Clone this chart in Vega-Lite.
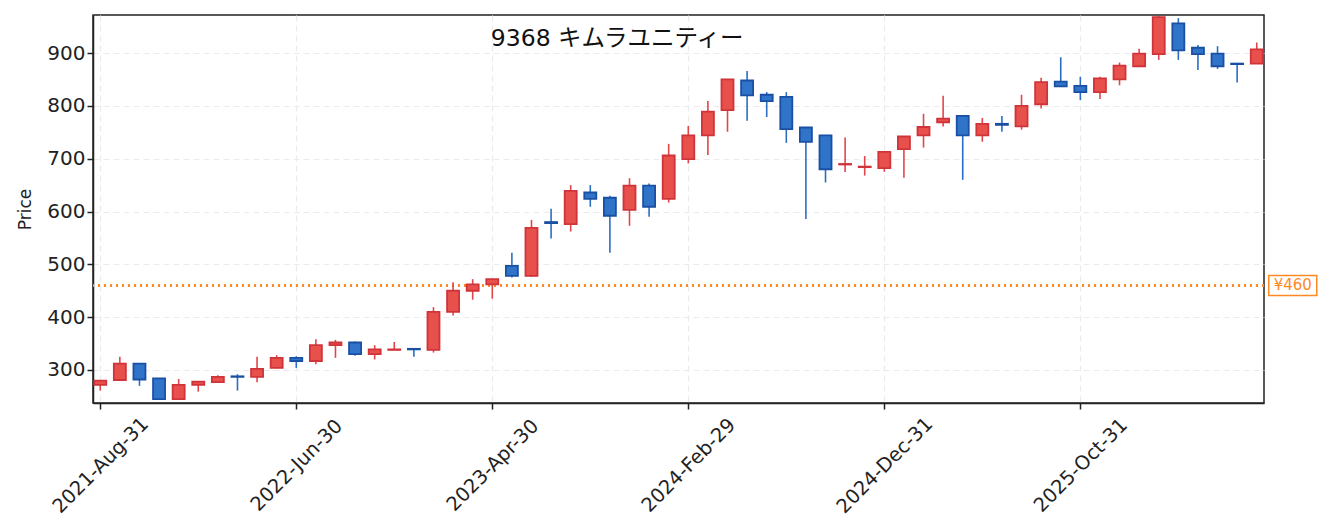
{
  "$schema": "https://vega.github.io/schema/vega-lite/v6.json",
  "width": 1171,
  "height": 388,
  "autosize": {"type": "none"},
  "padding": {"left": 93, "top": 15, "right": 65, "bottom": 129},
  "background": "white",
  "title": {
    "text": "9368  キムラユニティー",
    "anchor": "start",
    "dx": 474,
    "offset": -35,
    "baseline": "top",
    "font": "DejaVu Sans, Noto Sans CJK JP",
    "fontSize": 23.5,
    "fontWeight": "normal",
    "color": "#111111"
  },
  "config": {
    "view": {"stroke": "#222222", "strokeWidth": 1.5}
  },
  "data": {
    "values": [
      {"d": "2021-Aug-31", "o": 272, "h": 281, "l": 261, "c": 280},
      {"d": "2021-Sep-30", "o": 281, "h": 325, "l": 280, "c": 312},
      {"d": "2021-Oct-31", "o": 312, "h": 312, "l": 270, "c": 282},
      {"d": "2021-Nov-30", "o": 284, "h": 284, "l": 245, "c": 245},
      {"d": "2021-Dec-31", "o": 245, "h": 283, "l": 245, "c": 272},
      {"d": "2022-Jan-31", "o": 272, "h": 278, "l": 259, "c": 278},
      {"d": "2022-Feb-28", "o": 277, "h": 290, "l": 277, "c": 287},
      {"d": "2022-Mar-31", "o": 288, "h": 292, "l": 261, "c": 287},
      {"d": "2022-Apr-30", "o": 287, "h": 325, "l": 277, "c": 302},
      {"d": "2022-May-31", "o": 304, "h": 328, "l": 303, "c": 323},
      {"d": "2022-Jun-30", "o": 323, "h": 326, "l": 304, "c": 317},
      {"d": "2022-Jul-31", "o": 317, "h": 358, "l": 311, "c": 347},
      {"d": "2022-Aug-31", "o": 347, "h": 357, "l": 323, "c": 352},
      {"d": "2022-Sep-30", "o": 352, "h": 354, "l": 327, "c": 330},
      {"d": "2022-Oct-31", "o": 330, "h": 347, "l": 320, "c": 339},
      {"d": "2022-Nov-30", "o": 338, "h": 353, "l": 338, "c": 339},
      {"d": "2022-Dec-31", "o": 340, "h": 340, "l": 325, "c": 339},
      {"d": "2023-Jan-31", "o": 338, "h": 419, "l": 333, "c": 410},
      {"d": "2023-Feb-28", "o": 410, "h": 466, "l": 403, "c": 450},
      {"d": "2023-Mar-31", "o": 450, "h": 472, "l": 433, "c": 462},
      {"d": "2023-Apr-30", "o": 462, "h": 472, "l": 435, "c": 472},
      {"d": "2023-May-31", "o": 497, "h": 522, "l": 475, "c": 478},
      {"d": "2023-Jun-30", "o": 478, "h": 584, "l": 476, "c": 569},
      {"d": "2023-Jul-31", "o": 580, "h": 605, "l": 549, "c": 578},
      {"d": "2023-Aug-31", "o": 576, "h": 650, "l": 562, "c": 639},
      {"d": "2023-Sep-30", "o": 636, "h": 650, "l": 609, "c": 624},
      {"d": "2023-Oct-31", "o": 626, "h": 630, "l": 522, "c": 592},
      {"d": "2023-Nov-30", "o": 603, "h": 663, "l": 573, "c": 649},
      {"d": "2023-Dec-31", "o": 649, "h": 653, "l": 590, "c": 609},
      {"d": "2024-Jan-31", "o": 624, "h": 728, "l": 617, "c": 706},
      {"d": "2024-Feb-29", "o": 699, "h": 762, "l": 691, "c": 744},
      {"d": "2024-Mar-31", "o": 744, "h": 809, "l": 707, "c": 789},
      {"d": "2024-Apr-30", "o": 792, "h": 850, "l": 751, "c": 850},
      {"d": "2024-May-31", "o": 848, "h": 866, "l": 772, "c": 820},
      {"d": "2024-Jun-30", "o": 821, "h": 826, "l": 779, "c": 809},
      {"d": "2024-Jul-31", "o": 817, "h": 826, "l": 730, "c": 756},
      {"d": "2024-Aug-31", "o": 759, "h": 759, "l": 586, "c": 732},
      {"d": "2024-Sep-30", "o": 744, "h": 744, "l": 655, "c": 680},
      {"d": "2024-Oct-31", "o": 689, "h": 740, "l": 675, "c": 690},
      {"d": "2024-Nov-30", "o": 684, "h": 705, "l": 668, "c": 685},
      {"d": "2024-Dec-31", "o": 682, "h": 713, "l": 675, "c": 713},
      {"d": "2025-Jan-31", "o": 718, "h": 742, "l": 664, "c": 742},
      {"d": "2025-Feb-28", "o": 744, "h": 785, "l": 721, "c": 760},
      {"d": "2025-Mar-31", "o": 769, "h": 819, "l": 761, "c": 776},
      {"d": "2025-Apr-30", "o": 781, "h": 781, "l": 660, "c": 744},
      {"d": "2025-May-31", "o": 744, "h": 777, "l": 732, "c": 766},
      {"d": "2025-Jun-30", "o": 766, "h": 781, "l": 751, "c": 764},
      {"d": "2025-Jul-31", "o": 761, "h": 821, "l": 755, "c": 800},
      {"d": "2025-Aug-31", "o": 803, "h": 853, "l": 795, "c": 845},
      {"d": "2025-Sep-30", "o": 846, "h": 892, "l": 837, "c": 837},
      {"d": "2025-Oct-31", "o": 838, "h": 855, "l": 811, "c": 826},
      {"d": "2025-Nov-30", "o": 826, "h": 855, "l": 813, "c": 852},
      {"d": "2025-Dec-31", "o": 850, "h": 882, "l": 839, "c": 876},
      {"d": "2026-Jan-31", "o": 875, "h": 908, "l": 874, "c": 899},
      {"d": "2026-Feb-28", "o": 898, "h": 970, "l": 887, "c": 968},
      {"d": "2026-Mar-31", "o": 956, "h": 966, "l": 887, "c": 905},
      {"d": "2026-Apr-30", "o": 910, "h": 915, "l": 868, "c": 898},
      {"d": "2026-May-31", "o": 899, "h": 913, "l": 870, "c": 875},
      {"d": "2026-Jun-30", "o": 880, "h": 880, "l": 844, "c": 879},
      {"d": "2026-Jul-31", "o": 880, "h": 920, "l": 880, "c": 907}
    ]
  },
  "encoding": {
    "x": {
      "field": "d",
      "type": "ordinal",
      "sort": null,
      "scale": {"type": "point", "padding": 0.37},
      "axis": {
        "title": null,
        "values": ["2021-Aug-31", "2022-Jun-30", "2023-Apr-30", "2024-Feb-29", "2024-Dec-31", "2025-Oct-31"],
        "labelAngle": -45,
        "labelAlign": "center",
        "labelBaseline": "middle",
        "labelPadding": 56,
        "labelOverlap": false,
        "labelFont": "DejaVu Sans",
        "labelFontSize": 19.5,
        "labelColor": "#222222",
        "domainColor": "#222222",
        "domainWidth": 1.5,
        "tickColor": "#222222",
        "tickWidth": 1.5,
        "tickSize": 6,
        "grid": true,
        "gridColor": "#ebebeb",
        "gridDash": [6, 4],
        "gridWidth": 1.2
      }
    }
  },
  "layer": [
    {
      "mark": {"type": "rule", "color": "#ff8a24", "strokeWidth": 2, "strokeDash": [2, 4]},
      "encoding": {"y": {"datum": 460, "type": "quantitative"}, "x": null}
    },
    {
      "mark": {"type": "rule", "strokeWidth": 1.6},
      "encoding": {
        "y": {
          "field": "l",
          "type": "quantitative",
          "scale": {"domain": [237.5, 972], "nice": false, "zero": false},
          "axis": {
            "title": "Price",
            "values": [300, 400, 500, 600, 700, 800, 900],
            "titlePadding": 12,
            "titleFont": "DejaVu Sans",
            "titleFontSize": 17,
            "titleFontWeight": "normal",
            "titleColor": "#222222",
            "labelFont": "DejaVu Sans",
            "labelFontSize": 20,
            "labelColor": "#222222",
            "domainColor": "#222222",
            "domainWidth": 1.5,
            "tickColor": "#222222",
            "tickWidth": 1.5,
            "tickSize": 6,
            "grid": true,
            "gridColor": "#ebebeb",
            "gridDash": [6, 4],
            "gridWidth": 1.2
          }
        },
        "y2": {"field": "h"},
        "color": {"condition": {"test": "datum.c >= datum.o", "value": "#e0464a"}, "value": "#2a6ec4"}
      }
    },
    {
      "mark": {"type": "bar", "size": 12, "strokeWidth": 1.8},
      "encoding": {
        "y": {"field": "o", "type": "quantitative"},
        "y2": {"field": "c"},
        "fill": {"condition": {"test": "datum.c >= datum.o", "value": "#e8504c"}, "value": "#2f74c9"},
        "stroke": {"condition": {"test": "datum.c >= datum.o", "value": "#d0343a"}, "value": "#1a50a4"}
      }
    },
    {
      "data": {"values": [{"d": "2026-Jul-31", "v": 460, "t": "¥460"}]},
      "mark": {"type": "point", "shape": "M-1,-0.42L1,-0.42L1,0.42L-1,0.42Z", "size": 2304, "filled": true, "fill": "white", "stroke": "#ff8a24", "strokeWidth": 1.5, "opacity": 1, "xOffset": 36, "clip": false},
      "encoding": {"y": {"field": "v", "type": "quantitative"}}
    },
    {
      "data": {"values": [{"d": "2026-Jul-31", "v": 460, "t": "¥460"}]},
      "mark": {"type": "text", "color": "#ff8a24", "font": "DejaVu Sans", "fontSize": 15, "dx": 36, "align": "center", "baseline": "middle"},
      "encoding": {"y": {"field": "v", "type": "quantitative"}, "text": {"field": "t"}}
    }
  ]
}
